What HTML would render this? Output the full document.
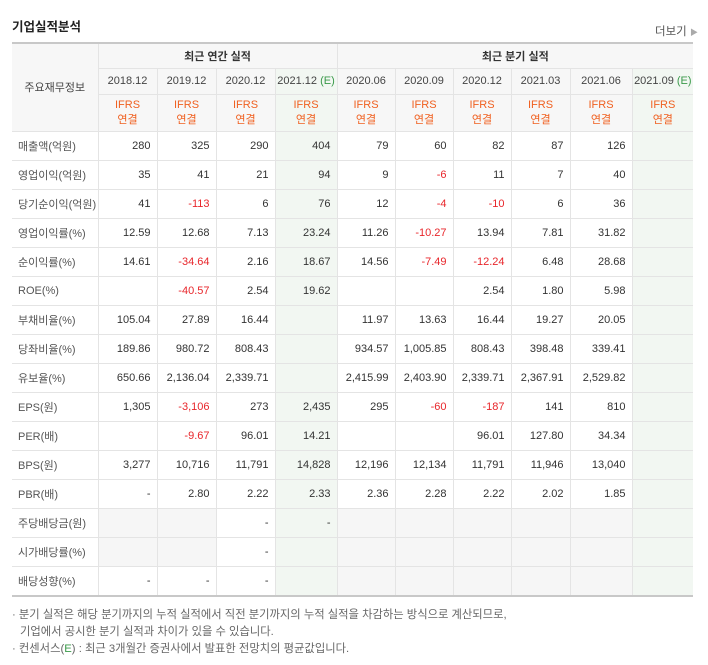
<!DOCTYPE html>
<html><head><meta charset="utf-8"><style>
body{margin:0;background:#fff;font-family:"Liberation Sans","Noto Sans CJK KR",sans-serif;color:#333;width:708px;height:665px;position:relative;overflow:hidden}
#title{position:absolute;left:12px;top:16px;font-size:12.5px;font-weight:bold;color:#222}
#more{position:absolute;left:655px;top:23px;font-size:11.5px;color:#555}
table{position:absolute;left:12px;top:42px;border-collapse:collapse;table-layout:fixed;width:681px;font-size:11px}
td,th{border:1px solid #e4e4e4;padding:0 6px;white-space:nowrap;overflow:hidden}
th{padding:0 1px}
table{border-top:2px solid #c8c8c8;border-bottom:2px solid #c8c8c8}
th{background:#f7f7f7;font-weight:normal;color:#444;text-align:center}
td{text-align:right;height:28px}
td.lab{text-align:left;padding-left:6px;color:#555;border-left:none}
th.lab{border-left:none}
tr.grp td{border-top:1px solid #bdbdbd}
.e{background:#f2f7f2}
.gray{background:#f6f6f6}
.neg{color:#e8262b}
.ifrs{color:#f06020;line-height:15px}
.ge{color:#3a9a4a}
th.rc,td.rc{border-right:none}
.sep{border-left:1px solid #c8c8c8 !important}
#notes{position:absolute;left:12px;top:607px;font-size:11.3px;color:#666;line-height:17px}
</style></head><body>
<div id="title">기업실적분석</div>
<div id="more">더보기 <span style="color:#aaa;font-size:8px">▶</span></div>
<table id="t">
<colgroup><col style="width:86px"><col style="width:59px"><col style="width:59px"><col style="width:59px"><col style="width:62px"><col style="width:58px"><col style="width:58px"><col style="width:58px"><col style="width:59px"><col style="width:62px"><col style="width:61px"></colgroup>
</table>
<div id="notes">
<div>· 분기 실적은 해당 분기까지의 누적 실적에서 직전 분기까지의 누적 실적을 차감하는 방식으로 계산되므로,</div>
<div style="padding-left:8px">기업에서 공시한 분기 실적과 차이가 있을 수 있습니다.</div>
<div>· 컨센서스(<span class="ge">E</span>) : 최근 3개월간 증권사에서 발표한 전망치의 평균값입니다.</div>
</div>
<script>
const periods=["2018.12","2019.12","2020.12","2021.12","2020.06","2020.09","2020.12","2021.03","2021.06","2021.09"];
const estCols=[3,9];
const labels=["매출액(억원)","영업이익(억원)","당기순이익(억원)","영업이익률(%)","순이익률(%)","ROE(%)","부채비율(%)","당좌비율(%)","유보율(%)","EPS(원)","PER(배)","BPS(원)","PBR(배)","주당배당금(원)","시가배당률(%)","배당성향(%)"];
const values=[
["280","325","290","404","79","60","82","87","126",""],
["35","41","21","94","9","-6","11","7","40",""],
["41","-113","6","76","12","-4","-10","6","36",""],
["12.59","12.68","7.13","23.24","11.26","-10.27","13.94","7.81","31.82",""],
["14.61","-34.64","2.16","18.67","14.56","-7.49","-12.24","6.48","28.68",""],
["","-40.57","2.54","19.62","","","2.54","1.80","5.98",""],
["105.04","27.89","16.44","","11.97","13.63","16.44","19.27","20.05",""],
["189.86","980.72","808.43","","934.57","1,005.85","808.43","398.48","339.41",""],
["650.66","2,136.04","2,339.71","","2,415.99","2,403.90","2,339.71","2,367.91","2,529.82",""],
["1,305","-3,106","273","2,435","295","-60","-187","141","810",""],
["","-9.67","96.01","14.21","","","96.01","127.80","34.34",""],
["3,277","10,716","11,791","14,828","12,196","12,134","11,791","11,946","13,040",""],
["-","2.80","2.22","2.33","2.36","2.28","2.22","2.02","1.85",""],
["","","-","-","","","","","",""],
["","","-","","","","","","",""],
["-","-","-","","","","","","",""]];
const t=document.getElementById('t');
let r1=t.insertRow();r1.style.height='25px';
let h=document.createElement('th');h.className='lab';h.rowSpan=3;h.textContent='주요재무정보';


r1.appendChild(h);
h=document.createElement('th');h.colSpan=4;h.innerHTML='<b style="color:#333">최근 연간 실적</b>';


r1.appendChild(h);
h=document.createElement('th');h.colSpan=6;h.className='rc sep';h.innerHTML='<b style="color:#333">최근 분기 실적</b>';


r1.appendChild(h);
let r2=t.insertRow();r2.style.height='26px';
let r3=t.insertRow();r3.style.height='37px';
periods.forEach((p,i)=>{
 const e=estCols.includes(i);
 let c=document.createElement('th');
 c.innerHTML=p+(e?' <span class="ge">(E)</span>':'');
 if(e)c.className='e';
 if(i==9)c.classList.add('rc');
 if(i==4)c.classList.add('sep');
 
 
 r2.appendChild(c);
 c=document.createElement('th');
 c.innerHTML='<div class="ifrs">IFRS<br>연결</div>';
 if(e)c.className='e';
 if(i==9)c.classList.add('rc');
 if(i==4)c.classList.add('sep');
 
 
 r3.appendChild(c);
});
r3.style.borderBottom='1px solid #bdbdbd';
labels.forEach((l,ri)=>{
 const r=t.insertRow();
 if(ri%3==0&&ri>0)r.className='grp';
 const c=r.insertCell();c.className='lab';c.textContent=l;
 
 
 values[ri].forEach((v,ci)=>{
  const d=r.insertCell();d.textContent=v;
  const e=estCols.includes(ci);
  if(v.startsWith('-')&&v.length>1)d.classList.add('neg');
  if(e)d.classList.add('e');
  else if(ri>=13&&v==='')d.classList.add('gray');
  if(ci==9)d.classList.add('rc');
  if(ci==4)d.classList.add('sep');
  
  
 });
});
</script>
</body></html>
